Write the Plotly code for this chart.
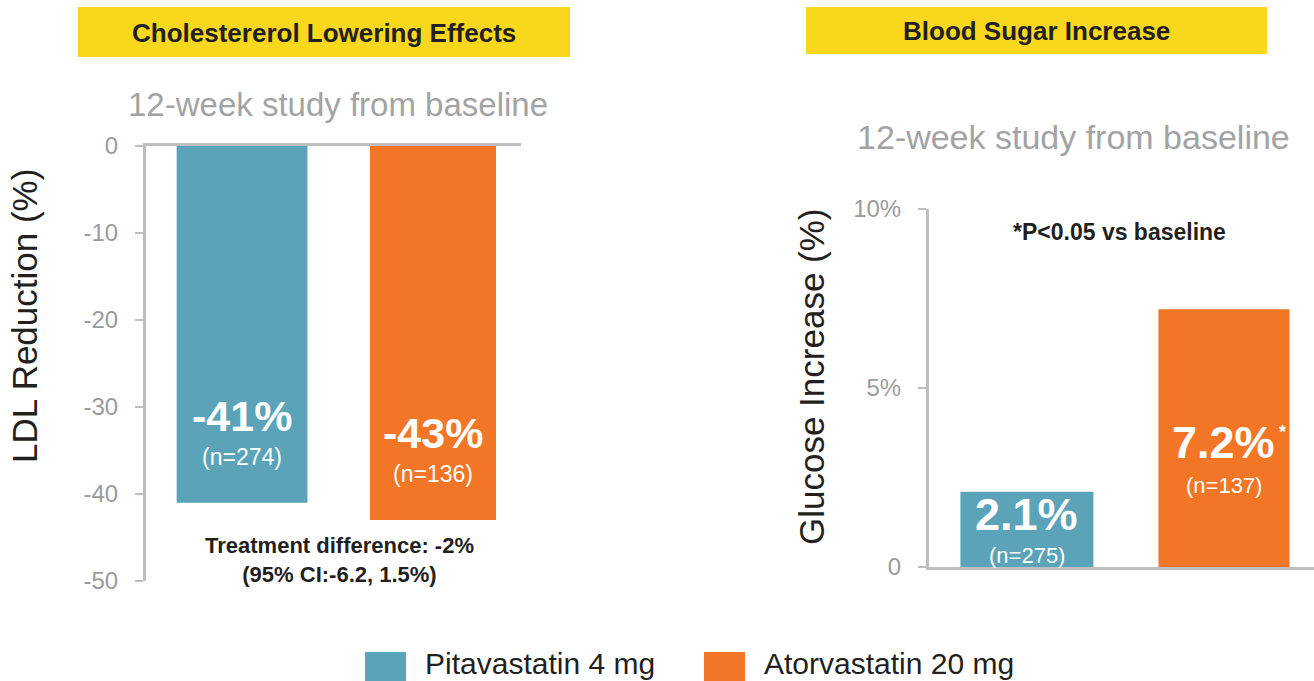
import plotly.graph_objects as go

W, H = 1314, 681


def px(x):
    return x / W


def py(y):
    return 1 - y / H


# ---------------- data ----------------
groups = ["Pitavastatin 4 mg", "Atorvastatin 20 mg"]
ldl_change = [-41, -43]
ldl_labels = ["-41%", "-43%"]
ldl_n = ["(n=274)", "(n=136)"]
glucose_change = [2.1, 7.2]
glucose_labels = ["2.1%", "7.2%"]
glucose_n = ["(n=275)", "(n=137)"]
ldl_ticks = [0, -10, -20, -30, -40, -50]
glu_ticks = [0, 5, 10]
glu_ticktext = ["0", "5%", "10%"]

colors = ["#5AA3B8", "#F37526"]
AXIS = "#BDBDBD"
TICKTXT = "#9B9B9B"
DARK = "#231F20"
FONT = "Liberation Sans"

fig = go.Figure()
fig.add_trace(go.Bar(x=groups, y=ldl_change, marker=dict(color=colors, line=dict(width=0)),
                     width=[0.685, 0.66], xaxis="x", yaxis="y", showlegend=False,
                     hoverinfo="skip"))
fig.add_trace(go.Bar(x=groups, y=glucose_change, marker=dict(color=colors, line=dict(width=0)),
                     width=[0.675, 0.665], xaxis="x2", yaxis="y2", showlegend=False,
                     hoverinfo="skip"))

common_y = dict(showline=True, linecolor=AXIS, linewidth=3, ticks="outside", ticklen=8,
                tickwidth=2, tickcolor=AXIS, showgrid=False, zeroline=False,
                tickfont=dict(family=FONT, size=24, color=TICKTXT), ticklabelstandoff=12)
common_x = dict(showline=True, linecolor=AXIS, linewidth=3, ticks="", showticklabels=False,
                showgrid=False, zeroline=False)

fig.update_layout(
    width=W, height=H, autosize=False, margin=dict(l=0, r=0, t=0, b=0, pad=0, autoexpand=False),
    paper_bgcolor="white", plot_bgcolor="white",
    font=dict(family=FONT),
    xaxis=dict(domain=[px(146), px(521)], range=[-0.503, 1.461], side="top", anchor="y", **common_x),
    yaxis=dict(domain=[py(581), py(146)], range=[-50, 0], anchor="x", tickvals=ldl_ticks,
               ticktext=[str(t) for t in ldl_ticks], **common_y),
    xaxis2=dict(domain=[px(929), 1.0], range=[-0.497, 1.457], anchor="y2", **common_x),
    yaxis2=dict(domain=[py(567), py(209)], range=[0, 10], anchor="x2", tickvals=glu_ticks,
                ticktext=glu_ticktext, **common_y),
)

shapes = [
    dict(type="rect", xref="paper", yref="paper", x0=px(78), x1=px(570), y0=py(57), y1=py(7),
         fillcolor="#F9D71C", line=dict(width=0), layer="below"),
    dict(type="rect", xref="paper", yref="paper", x0=px(806), x1=px(1267), y0=py(54), y1=py(7),
         fillcolor="#F9D71C", line=dict(width=0), layer="below"),
    dict(type="rect", xref="paper", yref="paper", x0=px(365), x1=px(406), y0=py(693), y1=py(652),
         fillcolor=colors[0], line=dict(width=0)),
    dict(type="rect", xref="paper", yref="paper", x0=px(704), x1=px(745), y0=py(693), y1=py(652),
         fillcolor=colors[1], line=dict(width=0)),
]
fig.update_layout(shapes=shapes)

ann = []


def text(x, y, s, size, color=DARK, bold=False, xanchor="center", angle=0):
    ann.append(dict(x=px(x), y=py(y), xref="paper", yref="paper", text=(f"<b>{s}</b>" if bold else s),
                    showarrow=False, xanchor=xanchor, yanchor="middle", textangle=angle,
                    font=dict(family=FONT, size=size, color=color)))


text(324, 33, "Cholestererol Lowering Effects", 26, bold=True)
text(1036, 31, "Blood Sugar Increase", 26, bold=True)
text(338, 105, "12-week study from baseline", 33, color="#A3A3A3")
text(1073, 137, "12-week study from baseline", 34, color="#A3A3A3")
text(24, 316, "LDL Reduction (%)", 35, angle=-90)
text(811, 377, "Glucose Increase (%)", 35, angle=-90)
text(339, 560, "<b>Treatment difference: -2%</b><br><b>(95% CI:-6.2, 1.5%)</b>", 22)
text(1119, 232, "*P<0.05 vs baseline", 23, bold=True)
text(423, 663, "Pitavastatin 4 mg", 30, xanchor="left")
text(762, 663, "Atorvastatin 20 mg", 30, xanchor="left")

# labels inside bars (positioned relative to the bar values)
for i, g in enumerate(groups):
    ann.append(dict(x=g, y=ldl_change[i] + 10, xref="x", yref="y", text=f"<b>{ldl_labels[i]}</b>",
                    showarrow=False, font=dict(family=FONT, size=43, color="white")))
    ann.append(dict(x=g, y=ldl_change[i] + 5.3, xref="x", yref="y", text=ldl_n[i],
                    showarrow=False, font=dict(family=FONT, size=23, color="white")))

glu_label_y = [1.46, 3.47]
glu_n_y = [0.31, 2.27]
for i, g in enumerate(groups):
    ann.append(dict(x=g, y=glu_label_y[i], xref="x2", yref="y2", text=f"<b>{glucose_labels[i]}</b>",
                    showarrow=False, font=dict(family=FONT, size=45, color="white")))
    ann.append(dict(x=g, y=glu_n_y[i], xref="x2", yref="y2", text=glucose_n[i],
                    showarrow=False, font=dict(family=FONT, size=22, color="white")))
text(1282, 432, "*", 18, color="white", bold=True)

fig.update_layout(annotations=ann)
fig.write_html("out.html", config={"displayModeBar": False},
               post_script="document.body.style.margin='0';document.body.style.overflow='hidden';")
